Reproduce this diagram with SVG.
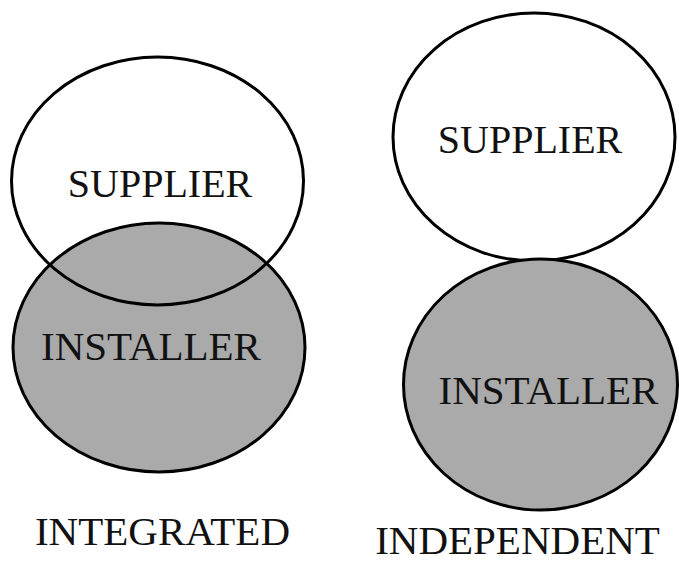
<svg xmlns="http://www.w3.org/2000/svg" width="679" height="564" viewBox="0 0 679 564">
  <style>
    .bg { fill: #ffffff; }
    .ring { fill: none; stroke: #000; stroke-width: 3; }
    .installer { fill: #aaaaaa; stroke: #000; stroke-width: 3; }
    .supplier { fill: #ffffff; stroke: #000; stroke-width: 3; }
    .lbl { font-family: "Liberation Serif", "Times New Roman", serif; font-size: 40px; fill: #111; text-anchor: middle; }
    .cap { font-family: "Liberation Serif", "Times New Roman", serif; font-size: 41px; fill: #111; text-anchor: middle; }
  </style>
  <rect class="bg" x="0" y="0" width="679" height="564"/>

  <!-- Integrated model: overlapping supplier and installer -->
  <g id="integrated-installer">
    <ellipse class="installer" cx="159" cy="347.5" rx="146" ry="124.5"/>
    <text class="lbl" x="151" y="360" style="font-size:41px">INSTALLER</text>
  </g>
  <g id="integrated-supplier">
    <ellipse class="ring" cx="157.5" cy="181" rx="146" ry="124"/>
    <text class="lbl" x="160" y="197">SUPPLIER</text>
  </g>
  <g id="integrated-caption">
    <text class="cap" x="162.5" y="545">INTEGRATED</text>
  </g>

  <!-- Independent model: supplier and installer only touching -->
  <g id="independent-supplier">
    <ellipse class="supplier" cx="534" cy="137" rx="141" ry="124"/>
    <text class="lbl" x="530" y="153">SUPPLIER</text>
  </g>
  <g id="independent-installer">
    <ellipse class="installer" cx="540.5" cy="384.5" rx="137" ry="125.5"/>
    <text class="lbl" x="548.5" y="404" style="font-size:41px">INSTALLER</text>
  </g>
  <g id="independent-caption">
    <text class="cap" x="517.5" y="554">INDEPENDENT</text>
  </g>

  <g id="connectors"></g>
</svg>
